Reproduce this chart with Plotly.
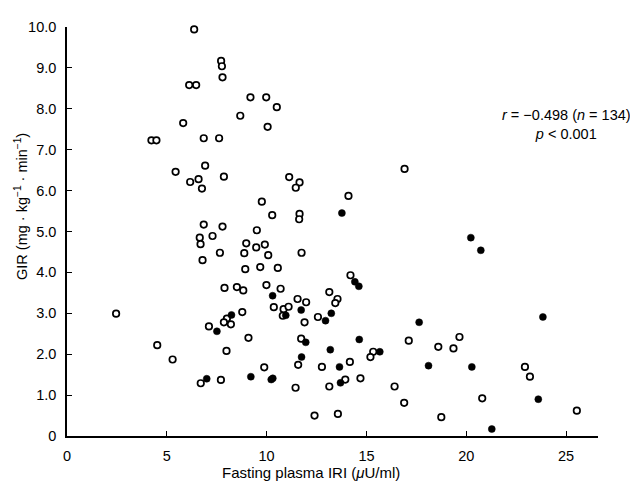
import plotly.graph_objects as go

# Open circles
open_x = [6.37, 7.72, 7.76, 7.79, 6.12, 6.47, 9.19, 9.98, 10.51, 8.68, 10.05, 5.82, 4.23, 4.48,
          6.85, 7.62, 6.92, 5.44, 6.59, 6.17, 6.76, 7.86, 11.13, 11.65, 11.46, 9.76, 10.28, 11.65,
          11.63, 6.85, 7.79, 9.51, 6.65, 7.29, 6.69, 8.98, 9.91, 9.48, 16.91, 14.10, 7.66, 8.88,
          10.08, 11.75, 6.79, 8.93, 9.68, 10.56, 7.89, 8.51, 8.83, 9.99, 10.70, 11.55, 11.98, 10.36,
          10.85, 11.10, 10.81, 12.57, 11.90, 2.46, 8.01, 7.86, 8.21, 8.78, 7.11, 9.09, 11.73, 4.52,
          5.29, 7.99, 9.88, 11.58, 6.70, 7.71, 11.45, 12.40, 14.20, 13.14, 13.55, 13.44, 17.12,
          19.66, 18.60, 19.36, 15.34, 15.20, 12.77, 14.17, 22.94, 23.19, 13.94, 14.70, 13.14,
          16.41, 16.89, 20.80, 25.54, 13.57, 18.75]
open_y = [9.94, 9.17, 9.04, 8.77, 8.58, 8.58, 8.28, 8.28, 8.04, 7.83, 7.56, 7.65, 7.23, 7.23,
          7.28, 7.28, 6.61, 6.46, 6.28, 6.21, 6.05, 6.34, 6.33, 6.20, 6.07, 5.73, 5.40, 5.43,
          5.30, 5.17, 5.12, 5.03, 4.85, 4.89, 4.69, 4.71, 4.68, 4.61, 6.53, 5.87, 4.48, 4.47,
          4.42, 4.48, 4.30, 4.08, 4.13, 4.11, 3.62, 3.64, 3.56, 3.69, 3.60, 3.35, 3.27, 3.15,
          3.10, 3.16, 2.94, 2.91, 2.78, 2.99, 2.87, 2.78, 2.73, 3.03, 2.68, 2.40, 2.38, 2.22,
          1.87, 2.08, 1.68, 1.74, 1.29, 1.37, 1.18, 0.50, 3.93, 3.52, 3.35, 3.25, 2.33,
          2.42, 2.18, 2.14, 2.06, 1.93, 1.69, 1.81, 1.69, 1.45, 1.38, 1.41, 1.21,
          1.21, 0.81, 0.92, 0.62, 0.54, 0.46]

# Filled circles
filled_x = [13.77, 20.23, 20.73, 10.30, 10.96, 11.73, 8.24, 7.51, 11.96, 11.75, 7.00, 9.21, 10.23,
            10.31, 14.42, 14.62, 13.24, 12.95, 17.64, 14.64, 13.19, 15.67, 13.65, 18.11, 20.28,
            13.70, 23.61, 21.28, 23.84]
filled_y = [5.45, 4.85, 4.54, 3.43, 2.95, 3.08, 2.96, 2.56, 2.29, 1.93, 1.40, 1.45, 1.38,
            1.41, 3.77, 3.66, 3.00, 2.82, 2.78, 2.36, 2.11, 2.06, 1.69, 1.72, 1.69,
            1.30, 0.90, 0.17, 2.91]

x_ticks = [0, 5, 10, 15, 20, 25]
y_ticks = [0, 1, 2, 3, 4, 5, 6, 7, 8, 9, 10]
y_tick_labels = ["0", "1.0", "2.0", "3.0", "4.0", "5.0", "6.0", "7.0", "8.0", "9.0", "10.0"]

FONT = "Liberation Sans, Arial, sans-serif"

fig = go.Figure()
fig.add_trace(go.Scatter(
    x=open_x, y=open_y, mode="markers",
    marker=dict(symbol="circle", size=6.5, color="white", line=dict(color="black", width=1.7)),
    cliponaxis=False, showlegend=False))
fig.add_trace(go.Scatter(
    x=filled_x, y=filled_y, mode="markers",
    marker=dict(symbol="circle", size=7, color="black", line=dict(color="black", width=0.5)),
    cliponaxis=False, showlegend=False))

# page body has an 8px margin, so the figure is 630x482 and offset by 8px
fig.update_layout(
    width=630, height=482,
    margin=dict(l=59, r=40, t=11, b=54),
    paper_bgcolor="white", plot_bgcolor="white",
    font=dict(family=FONT, size=14, color="black"),
    xaxis=dict(range=[0, 26.6], tickvals=x_ticks, ticks="inside", ticklen=5, tickwidth=1.2,
               tickcolor="black", showline=True, linecolor="black", linewidth=1.5,
               showgrid=False, zeroline=False, ticklabelstandoff=6,
               tickfont=dict(size=14.5)),
    yaxis=dict(range=[0, 10], tickvals=y_ticks, ticktext=y_tick_labels, ticks="inside",
               ticklen=5, tickwidth=1.2, tickcolor="black", showline=True, linecolor="black",
               linewidth=1.5, showgrid=False, zeroline=False, ticklabelstandoff=6,
               tickfont=dict(size=14.5)),
    annotations=[
        dict(text="<i>r</i> = −0.498 (<i>n</i> = 134)<br><i>p</i> &lt; 0.001",
             xref="paper", yref="paper", x=0.9416, y=0.761, xanchor="center", yanchor="middle",
             align="center", showarrow=False, font=dict(size=14.5)),
        dict(text="Fasting plasma IRI (<i>μ</i>U/ml)", xref="paper", yref="paper",
             x=0.4595, y=-0.0894, xanchor="center", yanchor="middle", showarrow=False,
             font=dict(size=15)),
        dict(text="GIR (mg · kg<sup>−1</sup> · min<sup>−1</sup>)", xref="paper", yref="paper",
             x=-0.0866, y=0.56, xanchor="center", yanchor="middle", textangle=-90,
             showarrow=False, font=dict(size=14.5)),
    ],
)

fig.write_html("out.html")
